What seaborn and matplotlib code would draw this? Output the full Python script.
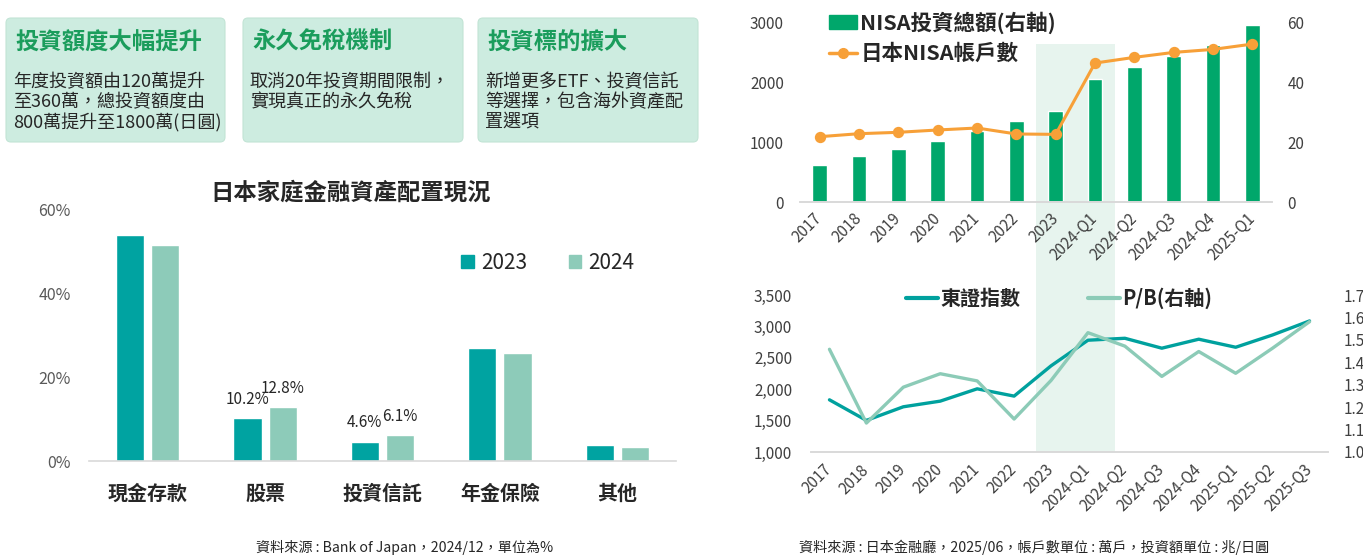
import numpy as np
import pandas as pd
import matplotlib
matplotlib.use("Agg")
import matplotlib.pyplot as plt
import seaborn as sns
from matplotlib.patches import FancyBboxPatch, Rectangle, Patch
from matplotlib.lines import Line2D
from matplotlib.ticker import FuncFormatter

# ---------------- data ----------------
card_titles = ["投資額度大幅提升", "永久免稅機制", "投資標的擴大"]
card_lines = [
    ["年度投資額由120萬提升", "至360萬，總投資額度由", "800萬提升至1800萬(日圓)"],
    ["取消20年投資期間限制，", "實現真正的永久免稅"],
    ["新增更多ETF、投資信託", "等選擇，包含海外資產配", "置選項"],
]

alloc_title = "日本家庭金融資產配置現況"
asset_categories = ["現金存款", "股票", "投資信託", "年金保險", "其他"]
alloc_years = ["2023", "2024"]
alloc_2023 = [54.0, 10.2, 4.6, 27.0, 3.8]
alloc_2024 = [51.6, 12.8, 6.1, 25.8, 3.4]
labeled_categories = ["股票", "投資信託"]
alloc_source = "資料來源 : Bank of Japan，2024/12，單位為%"

nisa_periods = ["2017", "2018", "2019", "2020", "2021", "2022", "2023",
                "2024-Q1", "2024-Q2", "2024-Q3", "2024-Q4", "2025-Q1"]
nisa_amount = [12.5, 15.5, 17.8, 20.5, 23.8, 27.2, 30.5, 41.2, 45.2, 48.9, 52.5, 59.2]   # 兆日圓 (右軸)
nisa_accounts = [1096, 1146, 1169, 1208, 1241, 1141, 1135, 2326, 2421, 2504, 2554, 2643]  # 萬戶
nisa_labels = ["NISA投資總額(右軸)", "日本NISA帳戶數"]

market_periods = ["2017", "2018", "2019", "2020", "2021", "2022", "2023",
                  "2024-Q1", "2024-Q2", "2024-Q3", "2024-Q4", "2025-Q1", "2025-Q2", "2025-Q3"]
topix = [1831, 1503, 1720, 1810, 2006, 1890, 2372, 2780, 2811, 2653, 2796, 2668, 2864, 3087]
pb_ratio = [1.458, 1.129, 1.289, 1.349, 1.317, 1.147, 1.319, 1.532, 1.472, 1.337, 1.448, 1.351, 1.463, 1.581]
market_labels = ["東證指數", "P/B(右軸)"]
market_source = "資料來源 : 日本金融廳，2025/06，帳戶數單位 : 萬戶，投資額單位 : 兆/日圓"
highlight_range = ("2023", "2024-Q1")

# ---------------- style ----------------
sns.set_style("white")
plt.rcParams["font.family"] = ["Noto Sans CJK TC", "DejaVu Sans"]

W, H = 1363, 556
fig = plt.figure(figsize=(W / 100, H / 100), dpi=100)
fig.patch.set_facecolor("white")


def fx(x):
    return x / W


def fy(y):
    return 1 - y / H


C23 = "#00a3a1"
C24 = "#8dcbb9"
GREEN = "#00a76b"
ORANGE = "#f7a038"
TEAL = "#00a19e"
LIGHT = "#8ccbb7"
BAND = "#e7f4ee"
TXT = "#262626"
TICK = "#404040"
BASE = "#d9d9d9"
CARD_BG = "#cdece0"
CARD_TITLE = "#1b9d5c"

# ---------------- cards ----------------
card_x = [(6, 225), (243, 463), (478, 698)]
for (x0, x1), title, lines in zip(card_x, card_titles, card_lines):
    box = FancyBboxPatch((x0 / 100, (H - 142) / 100), (x1 - x0) / 100, (142 - 18) / 100,
                         boxstyle="round,pad=0,rounding_size=0.05",
                         transform=fig.dpi_scale_trans, fc=CARD_BG, ec="#c2e4d5", lw=0.8,
                         zorder=-2)
    fig.patches.append(box)
    fig.text(fx(x0 + 9), fy(42), title, ha="left", va="center", fontsize=16.8,
             fontweight="bold", color=CARD_TITLE)
    for i, ln in enumerate(lines):
        fig.text(fx(x0 + 7), fy(82 + 20.5 * i), ln, ha="left", va="center", fontsize=13, color=TXT)

# ---------------- left: allocation bar chart ----------------
ax1 = fig.add_axes([fx(89), fy(461), 587 / W, 251 / H])
df_alloc = pd.DataFrame({
    "類別": asset_categories * 2,
    "年份": [alloc_years[0]] * len(asset_categories) + [alloc_years[1]] * len(asset_categories),
    "比例": alloc_2023 + alloc_2024,
})
sns.barplot(data=df_alloc, x="類別", y="比例", hue="年份", palette=[C23, C24],
            width=0.6, gap=0.2, saturation=1, legend=False, ax=ax1)
ax1.set_xlim(-0.5, len(asset_categories) - 0.5)
ax1.set_ylim(0, 60)
ax1.set_yticks([0, 20, 40, 60])
ax1.yaxis.set_major_formatter(FuncFormatter(lambda v, p: f"{v:.0f}%"))
ax1.set_xlabel("")
ax1.set_ylabel("")
for s in ["top", "left", "right"]:
    ax1.spines[s].set_visible(False)
ax1.spines["bottom"].set_color(BASE)
ax1.spines["bottom"].set_linewidth(1.2)
ax1.tick_params(axis="y", length=0, pad=13, labelsize=11.5, labelcolor="#595959")
ax1.tick_params(axis="x", length=0, pad=16, labelsize=14.4, labelcolor=TXT)
for lab in ax1.get_xticklabels():
    lab.set_fontweight("bold")
ax1.patch.set_visible(False)

for container in ax1.containers:
    for bar, cat in zip(container, asset_categories):
        if cat in labeled_categories:
            h = bar.get_height()
            ax1.annotate(f"{h:.1f}%", (bar.get_x() + bar.get_width() / 2, h),
                         xytext=(0, 13.7), textcoords="offset points",
                         ha="center", va="center", fontsize=11, color=TXT)

ax1.legend(handles=[Patch(color=C23), Patch(color=C24)], labels=alloc_years,
           loc="center", bbox_to_anchor=(fx(548), fy(263)), bbox_transform=fig.transFigure,
           ncol=2, frameon=False, fontsize=15, handlelength=0.6, handleheight=0.6,
           handletextpad=0.35, columnspacing=2.0, borderpad=0)

fig.text(fx(351), fy(193), alloc_title, ha="center", va="center", fontsize=16.8,
         fontweight="bold", color=TXT)
fig.text(fx(405), fy(547), alloc_source, ha="center", va="center", fontsize=10.2, color=TXT)

# ---------------- top right: NISA ----------------
ax2 = fig.add_axes([fx(800), fy(202.3), 472 / W, 179.6 / H])
ax2r = ax2.twinx()
sns.barplot(x=nisa_periods, y=nisa_amount, color=GREEN, saturation=1, width=0.38, ax=ax2r)
sns.pointplot(x=nisa_periods, y=nisa_accounts, color=ORANGE, markers="o", linestyles="-",
              errorbar=None, markersize=6.5, linewidth=2.2, ax=ax2)
ax2.set_zorder(ax2r.get_zorder() + 1)
ax2.patch.set_visible(False)
ax2r.patch.set_visible(False)
ax2.set_xlim(-0.5, len(nisa_periods) - 0.5)
ax2.set_ylim(0, 3000)
ax2r.set_ylim(0, 60)
ax2.set_yticks([0, 1000, 2000, 3000])
ax2r.set_yticks([0, 20, 40, 60])
ax2.set_xticks(range(len(nisa_periods)))
ax2.set_xticklabels(nisa_periods, rotation=45, ha="right", va="center", rotation_mode="anchor")
for a in (ax2, ax2r):
    a.set_xlabel("")
    a.set_ylabel("")
    for s in ["top", "left", "right"]:
        a.spines[s].set_visible(False)
    a.spines["bottom"].set_color(BASE)
    a.spines["bottom"].set_linewidth(1.2)
    a.tick_params(length=0, labelsize=11, labelcolor=TICK)
ax2.tick_params(axis="y", pad=11.5)
ax2r.tick_params(axis="y", pad=11)
ax2.tick_params(axis="x", pad=10)

fig.legend(handles=[Patch(color=GREEN),
                    Line2D([], [], color=ORANGE, marker="o", lw=2.5, ms=7)],
           labels=nisa_labels, loc="upper left", bbox_to_anchor=(fx(829), fy(11)),
           frameon=False, borderpad=0, borderaxespad=0,
           prop=dict(size=15.5, weight="bold"), handlelength=1.3, handleheight=0.6,
           handletextpad=0.15, labelspacing=0.45, labelcolor=TXT)

# ---------------- bottom right: TOPIX & P/B ----------------
ax3 = fig.add_axes([fx(811), fy(452), 517 / W, 157 / H])
ax3r = ax3.twinx()
sns.pointplot(x=market_periods, y=topix, color=TEAL, markers="", linestyles="-",
              errorbar=None, linewidth=2.4, ax=ax3)
sns.pointplot(x=market_periods, y=pb_ratio, color=LIGHT, markers="", linestyles="-",
              errorbar=None, linewidth=2.4, ax=ax3r)
ax3.patch.set_visible(False)
ax3r.patch.set_visible(False)
ax3.set_xlim(-0.5, len(market_periods) - 0.5)
ax3.set_ylim(1000, 3500)
ax3r.set_ylim(1.0, 1.7)
ax3.set_yticks(np.arange(1000, 3501, 500))
ax3r.set_yticks(np.arange(1.0, 1.71, 0.1))
ax3.yaxis.set_major_formatter(FuncFormatter(lambda v, p: f"{v:,.0f}"))
ax3r.yaxis.set_major_formatter(FuncFormatter(lambda v, p: f"{v:.1f}"))
ax3.set_xticks(range(len(market_periods)))
ax3.set_xticklabels(market_periods, rotation=45, ha="right", va="center", rotation_mode="anchor")
for a in (ax3, ax3r):
    a.set_xlabel("")
    a.set_ylabel("")
    for s in ["top", "left", "right"]:
        a.spines[s].set_visible(False)
    a.spines["bottom"].set_color(BASE)
    a.spines["bottom"].set_linewidth(1.2)
    a.tick_params(length=0, labelsize=11, labelcolor=TICK)
ax3.tick_params(axis="y", pad=13.5)
ax3r.tick_params(axis="y", pad=11.5)
ax3.tick_params(axis="x", pad=11)

fig.legend(handles=[Line2D([], [], color=TEAL, lw=3), Line2D([], [], color=LIGHT, lw=3)],
           labels=market_labels, loc="center", bbox_to_anchor=(fx(1059), fy(298)),
           ncol=2, frameon=False, borderpad=0, borderaxespad=0,
           prop=dict(size=14.4, weight="bold"), handlelength=1.6,
           handletextpad=0.1, columnspacing=3.4, labelcolor=TXT)
fig.text(fx(1034), fy(547), market_source, ha="center", va="center", fontsize=10.2, color=TXT)

# ---------------- highlight band spanning both right charts ----------------
i0 = nisa_periods.index(highlight_range[0]) - 0.5
i1 = nisa_periods.index(highlight_range[1]) + 0.5
disp = ax2.transData.transform([(i0, 0), (i1, 0)])
figc = fig.transFigure.inverted().transform(disp)
y_bottom = ax3.get_position().y0
y_top = fy(44)
band = Rectangle((figc[0, 0], y_bottom), figc[1, 0] - figc[0, 0], y_top - y_bottom,
                 transform=fig.transFigure, fc=BAND, ec="none", zorder=-1)
fig.patches.append(band)

fig.savefig("out.png", dpi=100)
